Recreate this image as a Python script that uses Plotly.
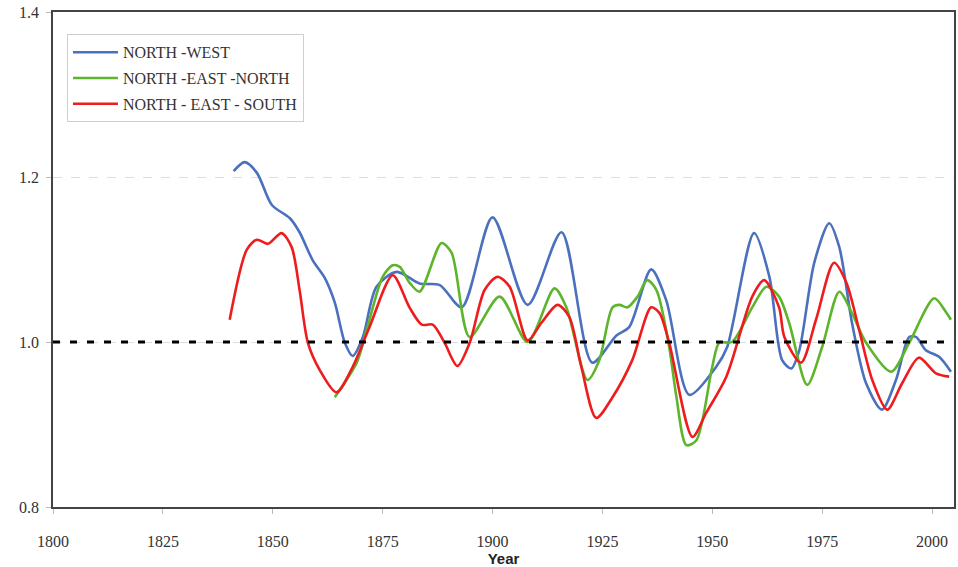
import plotly.graph_objects as go

# ---- data ----
nw_years = [1841.1, 1843.6, 1846.4, 1849.8, 1853.9, 1856.1, 1859.1, 1861.8, 1864.1, 1866.4,
            1868.2, 1870.5, 1873.6, 1878.2, 1883.4, 1888.0, 1893.0, 1900.0, 1908.0, 1915.7,
            1922.7, 1928.2, 1931.1, 1936.1, 1939.5, 1944.8, 1950.9, 1953.4, 1959.5, 1963.0,
            1965.9, 1968.0, 1969.8, 1973.2, 1976.6, 1978.9, 1981.8, 1985.0, 1988.6, 1991.8,
            1994.8, 1996.4, 1998.6, 2001.6, 2004.3]
nw_values = [1.207, 1.218, 1.205, 1.166, 1.150, 1.133, 1.099, 1.078, 1.048, 0.999,
             0.983, 1.006, 1.067, 1.085, 1.071, 1.069, 1.042, 1.151, 1.045, 1.133,
             0.975, 1.008, 1.018, 1.088, 1.051, 0.936, 0.970, 0.994, 1.132, 1.079,
             0.978, 0.968, 0.990, 1.096, 1.144, 1.115, 1.023, 0.950, 0.918, 0.954,
             1.006, 1.006, 0.990, 0.982, 0.964]

nen_years = [1864.1, 1869.1, 1871.4, 1875.0, 1877.3, 1878.9, 1881.1, 1883.4, 1888.4, 1890.7,
             1894.8, 1901.6, 1908.0, 1914.1, 1916.8, 1921.6, 1924.3, 1927.3, 1928.9, 1930.7,
             1933.0, 1935.2, 1937.3, 1940.2, 1941.8, 1944.1, 1946.4, 1950.0, 1951.6, 1954.5,
             1959.1, 1962.3, 1965.2, 1967.5, 1971.6, 1975.0, 1978.9, 1981.8, 1985.0, 1990.7,
             1994.8, 2000.5, 2003.2, 2004.3]
nen_values = [0.933, 0.975, 1.015, 1.079, 1.093, 1.091, 1.072, 1.061, 1.120, 1.108,
              1.006, 1.055, 1.000, 1.065, 1.042, 0.954, 0.978, 1.042, 1.045, 1.042,
              1.055, 1.075, 1.063, 0.994, 0.935, 0.875, 0.881, 0.970, 0.999, 1.000,
              1.042, 1.067, 1.055, 1.023, 0.948, 0.994, 1.061, 1.035, 0.999, 0.964,
              0.999, 1.053, 1.036, 1.027]

nes_years = [1840.2, 1844.1, 1846.4, 1848.9, 1852.0, 1854.3, 1856.1, 1858.0, 1860.7, 1864.5,
             1868.2, 1872.0, 1877.3, 1881.1, 1883.9, 1886.4, 1889.1, 1892.0, 1894.8, 1898.2,
             1901.1, 1903.9, 1908.0, 1911.1, 1914.8, 1917.5, 1920.2, 1923.6, 1927.3, 1931.8,
             1936.1, 1938.0, 1940.2, 1945.5, 1948.6, 1953.2, 1959.1, 1961.8, 1965.2, 1966.4,
             1970.2, 1973.6, 1977.7, 1980.5, 1983.4, 1986.4, 1989.8, 1993.2, 1997.0, 2000.9,
             2003.9]
nes_values = [1.027, 1.112, 1.124, 1.119, 1.132, 1.115, 1.063, 0.999, 0.966, 0.939,
              0.970, 1.018, 1.081, 1.042, 1.021, 1.021, 0.999, 0.971, 0.999, 1.063,
              1.079, 1.067, 1.002, 1.023, 1.045, 1.030, 0.970, 0.908, 0.933, 0.978,
              1.042, 1.035, 0.999, 0.885, 0.914, 0.958, 1.055, 1.075, 1.042, 1.006,
              0.975, 1.027, 1.096, 1.072, 1.015, 0.954, 0.918, 0.950, 0.981, 0.962,
              0.958]

series_names = ["NORTH -WEST", "NORTH -EAST -NORTH", "NORTH - EAST - SOUTH"]
series_colors = ["#4A70BE", "#5DB52C", "#EE1C1C"]
reference_level = 1.0
x_ticks = [1800, 1825, 1850, 1875, 1900, 1925, 1950, 1975, 2000]
y_ticks = [0.8, 1.0, 1.2, 1.4]

fig = go.Figure()
for i, (name, xs, ys, col) in enumerate(zip(series_names,
                                            [nw_years, nen_years, nes_years],
                                            [nw_values, nen_values, nes_values],
                                            series_colors)):
    fig.add_trace(go.Scatter(x=xs, y=ys, mode="lines", name=name, legendgroup=f"g{i}",
                             line=dict(color=col, width=2.6, shape="spline", smoothing=0.8)))

fig.add_shape(type="line", xref="paper", x0=0, x1=1, yref="y",
              y0=reference_level, y1=reference_level,
              line=dict(color="black", width=3, dash="7px,10px"))

serif = "Liberation Serif, Times New Roman, serif"
fig.update_layout(
    width=958, height=567,
    margin=dict(l=53, r=2, t=12, b=60),
    paper_bgcolor="white", plot_bgcolor="white",
    showlegend=True,
    legend=dict(x=0.0155, y=0.955, xanchor="left", yanchor="top",
                bgcolor="white", bordercolor="#cfcfcf", borderwidth=1,
                font=dict(family=serif, size=16, color="#333333"),
                tracegroupgap=2, itemwidth=45),
    xaxis=dict(range=[1800, 2005], tickvals=x_ticks, ticktext=[str(v) for v in x_ticks],
               showgrid=False, zeroline=False,
               showline=True, linecolor="#444444", linewidth=1.5, mirror=True,
               ticks="outside", ticklen=5, tickcolor="#bbbbbb",
               ticklabelstandoff=14,
               tickfont=dict(family=serif, size=16, color="#333333"),
               title=dict(text="<b>Year</b>", standoff=0,
                          font=dict(family="Liberation Sans, Arial, sans-serif", size=15,
                                    color="#222222"))),
    yaxis=dict(range=[0.8, 1.4], tickvals=y_ticks, tickformat=".1f",
               showgrid=True, gridcolor="#dddddd", griddash="dash", gridwidth=1,
               zeroline=False,
               showline=True, linecolor="#444444", linewidth=1.5, mirror=True,
               ticks="outside", ticklen=5, tickcolor="#bbbbbb",
               ticklabelstandoff=4,
               tickfont=dict(family=serif, size=16, color="#333333")),
)

fig.write_html("out.html", config={"displayModeBar": False},
               post_script="document.body.style.margin='0';document.body.style.overflow='hidden';")
